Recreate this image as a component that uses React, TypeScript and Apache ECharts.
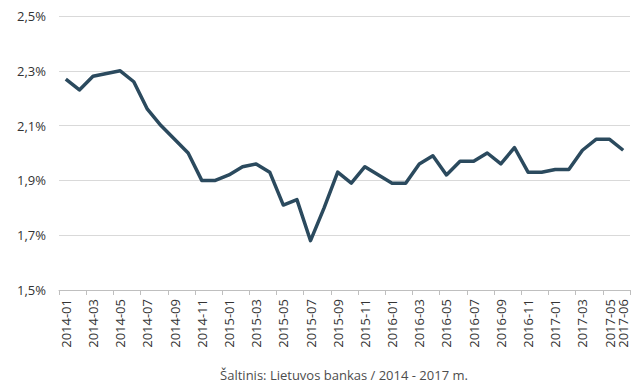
import React, { useEffect, useRef } from "react";
import * as echarts from "echarts";

const categories = [
  "2014-01","2014-02","2014-03","2014-04","2014-05","2014-06","2014-07","2014-08","2014-09","2014-10","2014-11","2014-12",
  "2015-01","2015-02","2015-03","2015-04","2015-05","2015-06","2015-07","2015-08","2015-09","2015-10","2015-11","2015-12",
  "2016-01","2016-02","2016-03","2016-04","2016-05","2016-06","2016-07","2016-08","2016-09","2016-10","2016-11","2016-12",
  "2017-01","2017-02","2017-03","2017-04","2017-05","2017-06",
];

const values = [
  2.27, 2.23, 2.28, 2.29, 2.30, 2.26, 2.16, 2.10, 2.05, 2.00, 1.90, 1.90,
  1.92, 1.95, 1.96, 1.93, 1.81, 1.83, 1.68, 1.80, 1.93, 1.89, 1.95, 1.92,
  1.89, 1.89, 1.96, 1.99, 1.92, 1.97, 1.97, 2.00, 1.96, 2.02, 1.93, 1.93,
  1.94, 1.94, 2.01, 2.05, 2.05, 2.01,
];

const sourceText = "Šaltinis: Lietuvos bankas / 2014 - 2017 m.";

export default function App() {
  const ref = useRef<HTMLDivElement>(null);
  useEffect(() => {
    if (!ref.current) return;
    const chart = echarts.init(ref.current, null, { renderer: "svg" });
    const font = "'Open Sans', sans-serif";
    chart.setOption({
      animation: false,
      grid: { left: 59, right: 14, top: 16, bottom: 95, containLabel: false },
      xAxis: {
        type: "category",
        data: categories,
        boundaryGap: true,
        axisLine: { lineStyle: { color: "#bfbfbf", width: 1 } },
        axisTick: {
          show: true,
          length: 5,
          interval: (i: number) => i % 2 === 0,
          lineStyle: { color: "#bfbfbf" },
        },
        axisLabel: {
          rotate: 90,
          interval: (i: number) => i % 2 === 0 || i === categories.length - 1,
          fontFamily: font,
          fontSize: 13,
          color: "#333333",
          margin: 9,
        },
        splitLine: { show: false },
      },
      yAxis: {
        type: "value",
        min: 1.5,
        max: 2.5,
        interval: 0.2,
        axisLine: { show: false },
        axisTick: { show: false },
        axisLabel: {
          fontFamily: font,
          fontSize: 13,
          color: "#333333",
          margin: 13,
          formatter: (v: number) => v.toFixed(1).replace(".", ",") + "%",
        },
        splitLine: { lineStyle: { color: "#d9d9d9", width: 1 } },
      },
      graphic: [
        {
          type: "text",
          x: 344,
          y: 375,
          style: {
            text: sourceText,
            fontFamily: font,
            fontSize: 13,
            fill: "#4d4d4d",
            textAlign: "center",
            textVerticalAlign: "middle",
          },
        },
      ],
      series: [
        {
          type: "line",
          data: values,
          symbol: "none",
          lineStyle: { color: "#2b4a5e", width: 3.5, join: "round" },
        },
      ],
    });
    return () => chart.dispose();
  }, []);
  return <div ref={ref} style={{ width: 644, height: 385, position: "absolute", left: 0, top: 0 }} />;
}
